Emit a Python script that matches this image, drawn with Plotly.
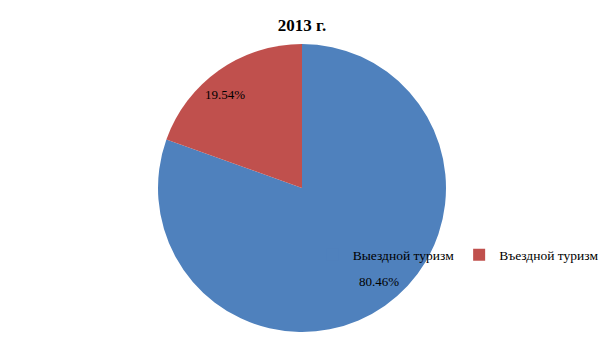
import math
import plotly.graph_objects as go

labels = ["Выездной туризм", "Въездной туризм"]
values = [80.46, 19.54]
colors = ["#4F81BD", "#C0504D"]
title_text = "2013 г."

W, H = 605, 340
cx, cy, r = 302, 188, 144

fig = go.Figure(go.Pie(
    labels=labels, values=values, sort=False, direction="clockwise", rotation=0,
    marker=dict(colors=colors, line=dict(width=0)),
    textinfo="none", hoverinfo="label+percent",
    domain=dict(x=[(cx - r) / W, (cx + r) / W], y=[1 - (cy + r) / H, 1 - (cy - r) / H]),
))

# percentage labels placed along each slice's mid-angle
total = sum(values)
cum = 0
for v in values:
    frac = (cum + v / 2) / total
    cum += v
    th = math.radians(frac * 360 - 4.5)
    k = 0.84 * r
    px = cx + k * math.sin(th)
    py = cy - k * math.cos(th)
    fig.add_annotation(x=px / W, y=1 - py / H, xref="paper", yref="paper",
                       xanchor="center", yanchor="middle",
                       text=f"{v / total * 100:.2f}%", showarrow=False,
                       font=dict(family="Liberation Serif", size=13, color="#000000"))

fig.update_layout(
    width=W, height=H, margin=dict(l=0, r=0, t=0, b=0),
    paper_bgcolor="white", plot_bgcolor="white",
    title=dict(text="<b>" + title_text + "</b>", x=302 / W, xanchor="center",
               y=1 - 25 / H, yanchor="middle",
               font=dict(family="Liberation Serif", size=17, color="#000000")),
    font=dict(family="Liberation Serif", size=13, color="#000000"),
    legend=dict(orientation="h", x=0.998, xanchor="right", y=1 - 255 / H, yanchor="middle",
                bgcolor="rgba(0,0,0,0)", font=dict(family="Liberation Serif", size=13.5),
                itemwidth=30),
    showlegend=True,
)

fig.write_html("out.html")
